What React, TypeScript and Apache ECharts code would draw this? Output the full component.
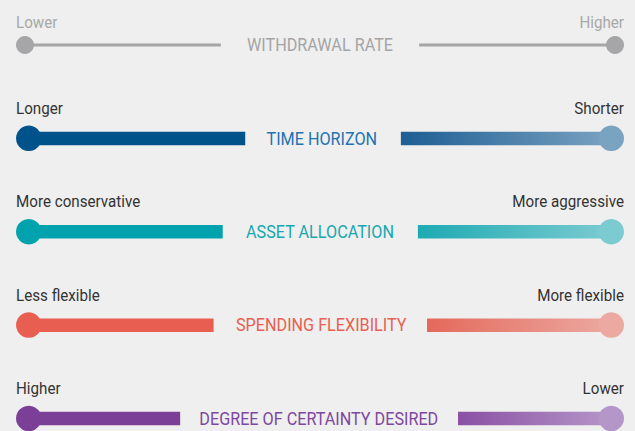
import React, { useEffect, useRef } from "react";
import * as echarts from "echarts";

const factors = [
  "WITHDRAWAL RATE",
  "TIME HORIZON",
  "ASSET ALLOCATION",
  "SPENDING FLEXIBILITY",
  "DEGREE OF CERTAINTY DESIRED",
];
const leftLabels = ["Lower", "Longer", "More conservative", "Less flexible", "Higher"];
const rightLabels = ["Higher", "Shorter", "More aggressive", "More flexible", "Lower"];
// positions on a 0–100 scale from left end to right end
const leftBarEnd = [33.7, 37.7, 34.0, 32.5, 27.0];
const rightBarStart = [66.3, 63.3, 66.1, 67.6, 72.7];
const labelCenter = [50, 50.3, 50, 50.2, 49.8];

const solidColors = ["#a6a6a8", "#00528a", "#00a3ad", "#e85f52", "#7b3f97"];
const gradStart = ["#a6a6a8", "#1d5e93", "#1eaab3", "#e4695b", "#8a50a4"];
const gradEnd = ["#a6a6a8", "#7aa2c1", "#7ccbd1", "#eca9a1", "#b596c8"];
const titleColors = ["#a4a4a6", "#1f73b2", "#17a7b0", "#e8604f", "#7e47a0"];
const sideLabelColors = ["#a8a8a8", "#333333", "#333333", "#333333", "#333333"];

const FONT = "Roboto, 'Noto Sans', sans-serif";

export default function App() {
  const ref = useRef<HTMLDivElement>(null);
  useEffect(() => {
    if (!ref.current) return;
    const chart = echarts.init(ref.current, undefined, { renderer: "svg" });
    const data = factors.map((_, i) => [i, leftBarEnd[i], rightBarStart[i], labelCenter[i]]);
    chart.setOption({
      animation: false,
      backgroundColor: "#efefef",
      grid: { left: 16, right: 11, top: 45, bottom: 12.5 },
      xAxis: { type: "value", min: 0, max: 100, show: false },
      yAxis: { type: "value", min: 0, max: 4, inverse: true, show: false },
      series: [
        {
          type: "custom",
          clip: false,
          data,
          renderItem: (params: any, api: any) => {
            const i = api.value(0);
            const le = api.value(1);
            const rs = api.value(2);
            const lc = api.value(3);
            const [x0, y] = api.coord([0, i]);
            const [x1] = api.coord([100, i]);
            const [xl] = api.coord([le, i]);
            const [xr] = api.coord([rs, i]);
            const [xc] = api.coord([lc, i]);
            const thin = i === 0;
            const r = thin ? 9 : 12.75;
            const h = thin ? 3 : 13.5;
            const cl = x0 + r;
            const cr = x1 - r;
            const off = thin ? 23 : 30;
            const grad = new echarts.graphic.LinearGradient(0, 0, 1, 0, [
              { offset: 0, color: gradStart[i] },
              { offset: 1, color: gradEnd[i] },
            ]);
            return {
              type: "group",
              children: [
                {
                  type: "rect",
                  shape: { x: cl, y: y - h / 2, width: xl - cl, height: h },
                  style: { fill: solidColors[i] },
                },
                {
                  type: "circle",
                  shape: { cx: cl, cy: y, r },
                  style: { fill: solidColors[i] },
                },
                {
                  type: "rect",
                  shape: { x: xr, y: y - h / 2, width: cr - xr, height: h },
                  style: { fill: grad },
                },
                {
                  type: "circle",
                  shape: { cx: cr, cy: y, r },
                  style: { fill: gradEnd[i] },
                },
                {
                  type: "text",
                  x: xc,
                  y: y,
                  scaleX: 0.9,
                  style: {
                    text: factors[i],
                    fill: titleColors[i],
                    fontSize: 18,
                    fontFamily: FONT,
                    align: "center",
                    textAlign: "center",
                    verticalAlign: "middle",
                    textVerticalAlign: "middle",
                  },
                },
                {
                  type: "text",
                  x: x0,
                  y: y - off,
                  scaleX: 0.92,
                  style: {
                    text: leftLabels[i],
                    fill: sideLabelColors[i],
                    fontSize: 16.5,
                    fontFamily: FONT,
                    align: "left",
                    textAlign: "left",
                    verticalAlign: "middle",
                    textVerticalAlign: "middle",
                  },
                },
                {
                  type: "text",
                  x: x1,
                  y: y - off,
                  scaleX: 0.92,
                  style: {
                    text: rightLabels[i],
                    fill: sideLabelColors[i],
                    fontSize: 16.5,
                    fontFamily: FONT,
                    align: "right",
                    textAlign: "right",
                    verticalAlign: "middle",
                    textVerticalAlign: "middle",
                  },
                },
              ],
            };
          },
        },
      ],
    });
    return () => chart.dispose();
  }, []);
  return (
    <div
      ref={ref}
      style={{ position: "absolute", left: 0, top: 0, width: 635, height: 431 }}
    />
  );
}
